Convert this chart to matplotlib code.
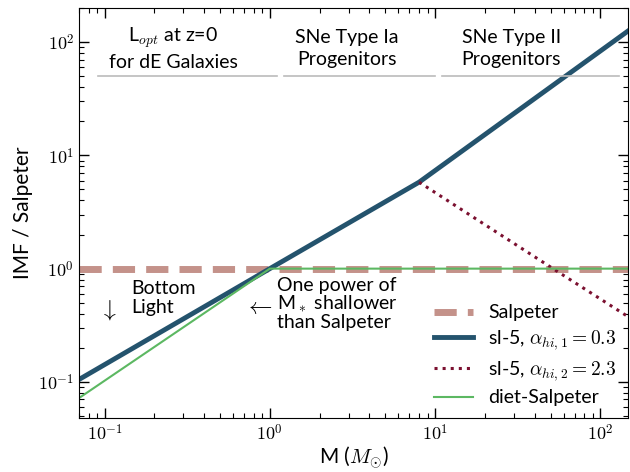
import numpy as np
import matplotlib
matplotlib.use('Agg')
import matplotlib.pyplot as plt
from matplotlib.ticker import FuncFormatter

plt.rcParams['font.family'] = ['Lato', 'DejaVu Sans']
plt.rcParams['mathtext.fontset'] = 'cm'

# data -------------------------------------------------------------
m_range = [0.07, 150]
salpeter = [1.0, 1.0]

m_sl5 = [0.07, 1.0, 8.0, 150.0]
sl5_hi1 = [0.105, 1.0, 5.8, 128.0]

m_sl5_hi2 = [8.0, 54.0, 150.0]
sl5_hi2 = [5.8, 0.96, 0.37]

m_diet = [0.07, 1.0, 150.0]
diet = [0.072, 1.0, 1.0]

region_labels = ['L$_{opt}$ at z=0\nfor dE Galaxies',
                 'SNe Type Ia\nProgenitors',
                 'SNe Type II\nProgenitors']
region_centers = [0.26, 2.92, 29.0]
region_spans = [(0.091, 1.10), (1.21, 10.0), (11.0, 130.0)]

# plot ----------------------------------------------------------------
fig = plt.figure(figsize=(6.3, 4.72), dpi=100)
ax = fig.add_axes([0.1254, 0.1144, 0.8714, 0.8686])

ax.plot(m_range, salpeter, color='#c4928a', lw=5, dashes=(3.2, 1.6), label='Salpeter')
ax.plot(m_sl5, sl5_hi1, color='#24536d', lw=3.5, label=r'sl-5, $\alpha_{hi,1} = 0.3$')
ax.plot(m_sl5_hi2, sl5_hi2, color='#7b1030', lw=2.2, ls=':', label=r'sl-5, $\alpha_{hi,2} = 2.3$')
ax.plot(m_diet, diet, color='#5cb862', lw=1.5, label='diet-Salpeter')

for lab, xc, (x0, x1) in zip(region_labels, region_centers, region_spans):
    ax.text(xc, 88, lab, ha='center', va='center', fontsize=14, linespacing=1.3)
    ax.plot([x0, x1], [50, 50], color='#bbbbbb', lw=1.2)

ax.text(0.145, 0.55, 'Bottom\nLight', ha='left', va='center', fontsize=14, linespacing=1.15)
ax.text(0.105, 0.43, r'$\downarrow$', ha='center', va='center', fontsize=17)
ax.text(0.85, 0.46, r'$\leftarrow$', ha='center', va='center', fontsize=17)
ax.text(1.1, 0.49, 'One power of\nM$_*$ shallower\nthan Salpeter', ha='left', va='center',
        fontsize=14, linespacing=0.98)

ax.set_xscale('log')
ax.set_yscale('log')
ax.set_xlim(0.07, 147)
ax.set_ylim(0.048, 200)

fmt = FuncFormatter(lambda v, p: r'$10^{%d}$' % round(np.log10(v)))
ax.xaxis.set_major_formatter(fmt)
ax.yaxis.set_major_formatter(fmt)
ax.tick_params(which='both', direction='in', top=True, right=True, labelsize=13)
ax.tick_params(which='major', length=7, width=1)
ax.tick_params(which='minor', length=3.5, width=0.8)

ax.set_xlabel(r'M ($M_{\odot}$)', fontsize=15, labelpad=1)
ax.set_ylabel('IMF / Salpeter', fontsize=15, labelpad=4)

ax.legend(loc='lower right', frameon=False, fontsize=14, handlelength=2.0,
          labelspacing=0.35, borderaxespad=0.2)

fig.savefig('out.png', dpi=100)
